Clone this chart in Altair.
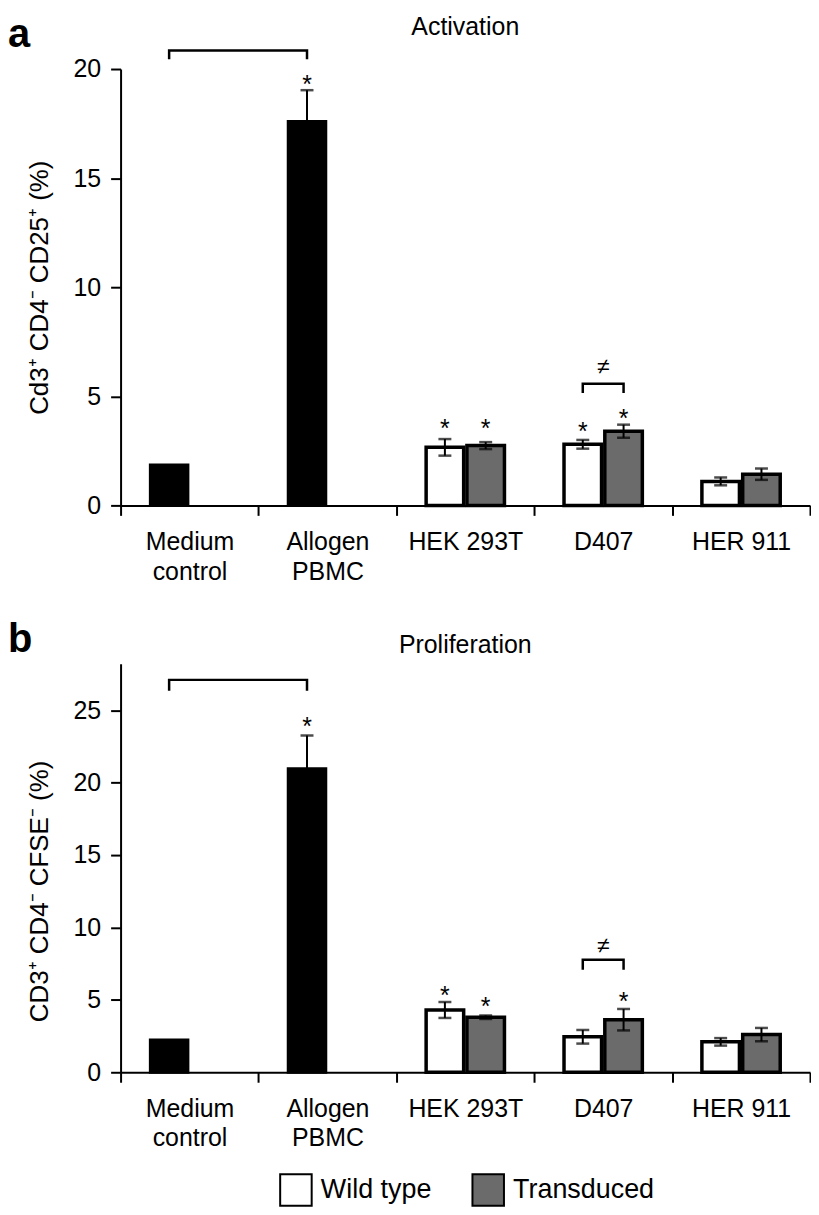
import altair as alt
import pandas as pd

FONT = "Liberation Sans"

groups = ["Medium control", "Allogen PBMC", "HEK 293T", "D407", "HER 911"]
series = ["Wild type", "Transduced"]

# ---- panel a : Activation ----
a_ctrl_group = ["Medium control", "Allogen PBMC"]
a_ctrl_value = [1.85, 17.59]
a_ctrl_err = [0.0, 1.44]
a_cell_group = ["HEK 293T", "HEK 293T", "D407", "D407", "HER 911", "HER 911"]
a_cell_series = ["Wild type", "Transduced", "Wild type", "Transduced", "Wild type", "Transduced"]
a_cell_value = [2.66, 2.74, 2.8, 3.4, 1.1, 1.43]
a_cell_err = [0.38, 0.16, 0.2, 0.3, 0.18, 0.26]
a_star_group = ["Allogen PBMC", "HEK 293T", "HEK 293T", "D407", "D407"]
a_star_series = ["Wild type", "Wild type", "Transduced", "Wild type", "Transduced"]
a_star_y = [19.52, 3.78, 3.78, 3.65, 4.23]
a_br_group = ["Medium control", "Medium control", "Allogen PBMC", "Allogen PBMC", "D407", "D407", "D407", "D407"]
a_br_series = ["Wild type", "Wild type", "Wild type", "Wild type", "Wild type", "Wild type", "Transduced", "Transduced"]
a_br_y = [20.45, 20.85, 20.85, 20.45, 5.15, 5.57, 5.57, 5.15]
a_br_id = [1, 1, 1, 1, 2, 2, 2, 2]
a_neq_y = 6.39

# ---- panel b : Proliferation ----
b_ctrl_group = ["Medium control", "Allogen PBMC"]
b_ctrl_value = [2.23, 20.95]
b_ctrl_err = [0.0, 2.3]
b_cell_group = ["HEK 293T", "HEK 293T", "D407", "D407", "HER 911", "HER 911"]
b_cell_series = ["Wild type", "Transduced", "Wild type", "Transduced", "Wild type", "Transduced"]
b_cell_value = [4.3, 3.8, 2.45, 3.63, 2.1, 2.6]
b_cell_err = [0.55, 0.12, 0.47, 0.74, 0.26, 0.46]
b_star_group = ["Allogen PBMC", "HEK 293T", "HEK 293T", "D407"]
b_star_series = ["Wild type", "Wild type", "Transduced", "Transduced"]
b_star_y = [24.26, 5.7, 4.95, 5.29]
b_br_group = ["Medium control", "Medium control", "Allogen PBMC", "Allogen PBMC", "D407", "D407", "D407", "D407"]
b_br_series = ["Wild type", "Wild type", "Wild type", "Wild type", "Wild type", "Wild type", "Transduced", "Transduced"]
b_br_y = [26.34, 27.09, 27.09, 26.34, 7.08, 7.77, 7.77, 7.08]
b_br_id = [1, 1, 1, 1, 2, 2, 2, 2]
b_neq_y = 8.8

W = 692


def panel(ctrl_group, ctrl_value, ctrl_err, cell_group, cell_series, cell_value, cell_err,
          star_group, star_series, star_y, br_group, br_series, br_y, br_id, neq_y,
          ymax, yticks, ytitle, title, letter, height, title_y_px, letter_y, axis_title_y):
    ctrl = pd.DataFrame({"group": ctrl_group, "series": ["Wild type"] * len(ctrl_group),
                         "value": ctrl_value, "err": ctrl_err})
    cell = pd.DataFrame({"group": cell_group, "series": cell_series,
                         "value": cell_value, "err": cell_err})
    allbars = pd.concat([ctrl, cell], ignore_index=True)
    stars = pd.DataFrame({"group": star_group, "series": star_series, "value": star_y})
    br = pd.DataFrame({"group": br_group, "series": br_series, "value": br_y, "id": br_id,
                       "k": list(range(len(br_group)))})
    neq = pd.DataFrame({"group": ["D407"], "value": [neq_y], "t": ["≠"]})
    lab = pd.DataFrame({"t": [letter]})
    ttl = pd.DataFrame({"t": [title]})

    x = alt.X("group:N", scale=alt.Scale(domain=groups, paddingInner=0, paddingOuter=0),
              axis=alt.Axis(title=None, tickBand="extent", labelAngle=0, labelPadding=14,
                            labelLineHeight=30, labelFontSize=25,
                            labelExpr="datum.value == 'Medium control' ? ['Medium', 'control'] : "
                                      "datum.value == 'Allogen PBMC' ? ['Allogen', 'PBMC'] : datum.value"))
    xo = alt.XOffset("series:N", scale=alt.Scale(domain=series, paddingInner=0.08, paddingOuter=0.73))
    yscale = alt.Scale(domain=[0, ymax], nice=False, zero=True)
    axis_kw = dict(values=yticks, labelPadding=10, titlePadding=21, titleFontSize=26,
                   titleFontWeight="normal", labelFontSize=25)
    if axis_title_y is not None:
        axis_kw["titleY"] = axis_title_y
    yaxis = alt.Axis(**axis_kw)

    def Y(field):
        return alt.Y(field, title=ytitle, scale=yscale, axis=yaxis)

    ctrl_bars = alt.Chart(ctrl).mark_bar(fill="black", stroke="black", strokeWidth=3).encode(
        x=x, xOffset=xo, y=Y("value:Q"))
    cell_bars = alt.Chart(cell).mark_bar(stroke="black", strokeWidth=3.5).encode(
        x=x, xOffset=xo, y=Y("value:Q"),
        fill=alt.Fill("series:N", scale=alt.Scale(domain=series, range=["white", "#6b6b6b"]),
                      legend=alt.Legend(title=None, orient="none", legendX=159, legendY=1108,
                                        direction="horizontal",
                                        symbolType="square", symbolSize=1000,
                                        symbolStrokeColor="black", symbolStrokeWidth=2,
                                        labelFontSize=27, labelOffset=8, columnPadding=36)))
    eb = alt.Chart(allbars).transform_filter("datum.err > 0").transform_calculate(
        lo="datum.value - datum.err", hi="datum.value + datum.err")
    rules = eb.mark_rule(color="black", strokeWidth=2).encode(
        x=x, xOffset=xo, y=Y("lo:Q"), y2="hi:Q")
    cap_hi = eb.mark_tick(color="black", size=13, thickness=2.5).encode(x=x, xOffset=xo, y=Y("hi:Q"))
    cap_lo = eb.mark_tick(color="black", size=13, thickness=2.5).encode(x=x, xOffset=xo, y=Y("lo:Q"))
    star_txt = alt.Chart(stars).mark_text(text="*", fontSize=25, font=FONT, baseline="alphabetic",
                                          dy=14, color="black").encode(x=x, xOffset=xo, y=Y("value:Q"))
    neq_txt = alt.Chart(neq).mark_text(fontSize=23, font=FONT, baseline="alphabetic", dy=8,
                                       color="black").encode(x=x, y=Y("value:Q"), text="t:N")
    brackets = alt.Chart(br).mark_line(color="black", strokeWidth=2.5, strokeJoin="miter").encode(
        x=x, xOffset=xo, y=Y("value:Q"), detail="id:N", order="k:Q")
    letter_txt = alt.Chart(lab).mark_text(align="left", baseline="alphabetic", fontSize=40,
                                          fontWeight="bold", font=FONT, color="black").encode(
        x=alt.value(-113), y=alt.value(letter_y), text="t:N")
    title_txt = alt.Chart(ttl).mark_text(align="center", baseline="alphabetic", fontSize=25,
                                         font=FONT, color="black").encode(
        x=alt.value(W / 2), y=alt.value(title_y_px), text="t:N")

    return alt.layer(ctrl_bars, cell_bars, rules, cap_hi, cap_lo, star_txt, neq_txt, brackets,
                     letter_txt, title_txt).properties(width=W, height=height)


top = panel(a_ctrl_group, a_ctrl_value, a_ctrl_err, a_cell_group, a_cell_series, a_cell_value,
            a_cell_err, a_star_group, a_star_series, a_star_y, a_br_group, a_br_series, a_br_y,
            a_br_id, a_neq_y, 20, [0, 5, 10, 15, 20], "Cd3⁺ CD4⁻ CD25⁺ (%)", "Activation", "a",
            438, -34, -22, None)
bottom = panel(b_ctrl_group, b_ctrl_value, b_ctrl_err, b_cell_group, b_cell_series, b_cell_value,
               b_cell_err, b_star_group, b_star_series, b_star_y, b_br_group, b_br_series, b_br_y,
               b_br_id, b_neq_y, 28.2, [0, 5, 10, 15, 20, 25], "CD3⁺ CD4⁻ CFSE⁻ (%)",
               "Proliferation", "b", 410, -11, -12, 228)

chart = alt.vconcat(top, bottom, spacing=36).properties(
    padding={"left": 0, "top": 5, "right": 0, "bottom": 0}
).configure_view(stroke=None).configure_axis(
    grid=False, domainColor="black", domainWidth=2, tickColor="black", tickWidth=2, tickSize=10,
    labelColor="black", titleColor="black", labelFont=FONT, titleFont=FONT
).configure_legend(labelFont=FONT, labelColor="black").configure_text(font=FONT)

chart.save("out.html", embed_options={"renderer": "svg", "actions": False})
